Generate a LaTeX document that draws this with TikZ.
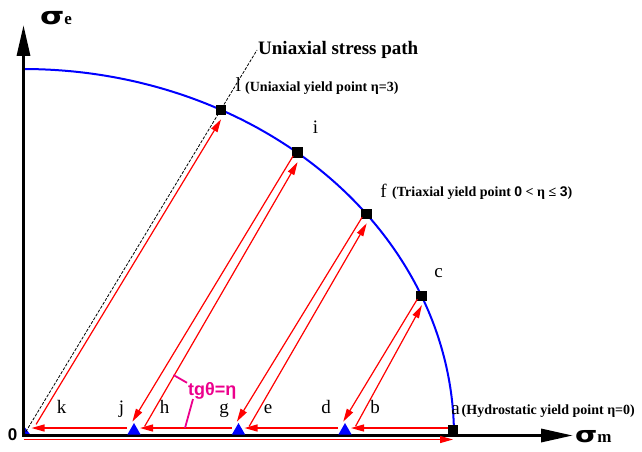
\documentclass[tikz,border=0pt]{standalone}
\usepackage{graphicx}
\usepackage{fontspec}
\setmainfont{Liberation Serif}
\setsansfont{Liberation Sans}
\newfontfamily\sigmafont{DejaVu Sans}
\usetikzlibrary{arrows.meta,calc,shapes.geometric}

\begin{document}
\begin{tikzpicture}[x=1pt,y=-1pt,
  yieldpt/.style={fill=black,minimum size=10.5pt,inner sep=0pt},
  bluetri/.style={regular polygon,regular polygon sides=3,fill=blue,minimum size=15.3pt,inner sep=0pt},
  redln/.style={red,line width=1.2pt},
  >={Triangle[length=13pt,width=7pt]},
  lbl/.style={font=\fontsize{19}{19}\selectfont,inner sep=0pt,anchor=base},
  yieldnote/.style={font=\fontsize{14}{14}\selectfont\bfseries,inner sep=0pt,anchor=base west}]
	\useasboundingbox (0,0) rectangle (642,452);
	\coordinate (O) at (23.5,435.5);
	\coordinate (xend) at (573,435.5);
	\coordinate (yend) at (23.5,25);
	\coordinate (usp) at (257,50);
	% yield surface
	\draw[blue,line width=2pt] plot[domain=0:90,samples=80,smooth] ({23.5+430.5*cos(\x)},{435.5-366.5*sin(\x)});
	\fill[blue] (O) -- ++(7.5,0) -- ++(-7.5,-10) -- cycle;
	\draw[line width=3.3pt,{Triangle[length=31pt,width=13pt]}-{Triangle[length=32pt,width=13pt]}] (yend) -- (O) -- (xend);
	\foreach \n/\x in {tj/134, tg/238.5, td/345}
		\node[bluetri] (\n) at (\x,430.7) {};
	\foreach \n/\a in {mc/22.4, mf/37.2, mi/50.5, ml/62.7}
		\node[yieldpt] (\n) at ({23.5+430.5*cos(\a)},{435.5-366.5*sin(\a)}) {};
	\node[yieldpt] (ma) at (453,430.5) {};
	% stress paths
	\draw[line width=0.8pt,dash pattern=on 3pt off 1.5pt] (O) -- (usp);
	\draw[redln,->] ([shift={(0,4)}]O) -- ([shift={(0,9)}]ma.center);
	\draw[redln,->] ([shift={(-5,-2.5)}]ma.center) -- ([shift={(6,-2.7)}]td.center);
	\foreach \a/\b in {td/tg, tg/tj}
		\draw[redln,->] ([shift={(-7,-2.7)}]\a.center) -- ([shift={(6,-2.7)}]\b.center);
	\draw[redln,->] ([shift={(-7,-2.7)}]tj.center) -- ([shift={(8,-7.5)}]O);
	\foreach \m/\t in {mc/td, mf/tg, mi/tj} {
		\draw[redln,->] ($(\m)!5pt!(\t)!2pt!-90:(\t)$) -- ($(\t)!7pt!(\m)!6pt!90:(\m)$);
		\draw[redln,->] ($(\t)!9pt!(\m)!7pt!-90:(\m)$) -- ($(\m)!8pt!(\t)!5pt!90:(\t)$);
	}
	\draw[redln,->] ($(O)!16pt!(ml)!5pt!-90:(ml)$) -- ($(ml)!8pt!(O)!5pt!90:(O)$);
	% labels
	\node[anchor=base west,inner sep=0pt,font=\fontsize{19}{19}\selectfont\bfseries] (uspl) at (258,55) {Uniaxial stress path};
	\node[lbl,font=\fontsize{20}{20}\selectfont] (ll) at (238.5,92) {l};
	\node[yieldnote] (lnote) at (245,92) {(Uniaxial yield point η=3)};
	\node[lbl] (il) at (315.5,133) {i};
	\node[lbl] (fl) at (383.5,197) {f};
	\node[yieldnote] (fnote) at (392,196) {(Triaxial yield point {\sffamily 0} < η ≤ {\sffamily 3})};
	\node[lbl] (cl) at (438.5,277) {c};
	\node[lbl] (al) at (455.5,414) {a};
	\node[yieldnote] (anote) at (461.5,414) {(Hydrostatic yield point η=0)};
	\foreach \s/\x in {k/61.5, j/121.5, h/164.5, g/224, e/268, d/326, b/375}
		\node[lbl] (lb\s) at (\x,413) {\s};
	\node[anchor=base,inner sep=0pt,font=\fontsize{17}{17}\selectfont\sffamily\bfseries] (zero) at (12.5,440) {0};
	\node[anchor=base west,inner sep=0pt] (se) at (40,25) {\scalebox{1.3}[1]{\fontsize{24}{24}\selectfont\sigmafont\bfseries σ}{\fontsize{17}{17}\selectfont\bfseries e}};
	\node[anchor=base west,inner sep=0pt] (sm) at (575,442) {\scalebox{1.3}[1]{\fontsize{22}{22}\selectfont\sigmafont\bfseries σ}{\fontsize{17}{17}\selectfont\bfseries m}};
	% angle note
	\node[anchor=base west,inner sep=0pt,font=\fontsize{18}{18}\selectfont\sffamily\bfseries,text=magenta] (tgl) at (188,395) {tgθ=η};
	\coordinate (tga) at (173.5,375);
	\coordinate (tgb) at (185,428);
	\draw[magenta,line width=1.8pt] (tga) -- ([shift={(-1,1)}]tgl.north west);
	\draw[magenta,line width=1.8pt] ([xshift=5pt]tgl.south west) -- (tgb);
\end{tikzpicture}
\end{document}
